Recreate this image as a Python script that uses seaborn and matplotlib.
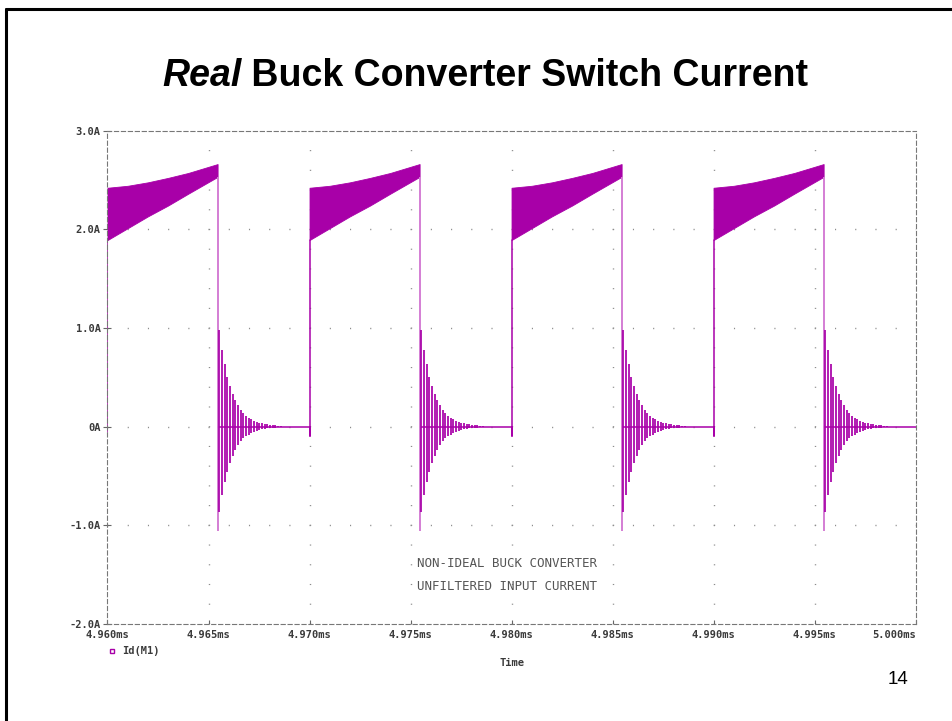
import numpy as np
import pandas as pd
import seaborn as sns
import matplotlib.pyplot as plt
from matplotlib.lines import Line2D

# switch current waveform, time in ms, current in A
period_starts = [4.960, 4.970, 4.980, 4.990]
t_stop = 5.000
on_time = 0.00545

# on-phase envelope (fast ringing fills the band), offsets in ms after turn-on
env_t = [0.0, 0.001, 0.002, 0.003, 0.004, 0.00545]
env_upper = [2.42, 2.44, 2.475, 2.52, 2.57, 2.66]
env_lower = [1.89, 2.01, 2.13, 2.24, 2.36, 2.53]
turn_on_dip = [-0.05, -0.10, -0.10, -0.10]

# turn-off edge and decaying ringing spikes
off_edge_top = 2.53
off_edge_low = -1.06
ring_first = 0.00008
ring_step = 0.000132
ring_top = [0.98, 0.78, 0.63, 0.50, 0.41, 0.33, 0.27, 0.22, 0.17, 0.14, 0.11, 0.09,
            0.075, 0.06, 0.05, 0.04, 0.033, 0.027, 0.022, 0.018, 0.015, 0.012, 0.01, 0.008]
ring_bot = [-0.86, -0.69, -0.56, -0.46, -0.37, -0.30, -0.24, -0.19, -0.15, -0.12, -0.10,
            -0.08, -0.065, -0.053, -0.043, -0.035, -0.028, -0.023, -0.019, -0.015, -0.012,
            -0.01, -0.008, -0.006]

x_ticks = [4.960, 4.965, 4.970, 4.975, 4.980, 4.985, 4.990, 4.995, 5.000]
y_ticks = [-2, -1, 0, 1, 2, 3]
y_ticklabels = ["-2.0A", "-1.0A", "0A", "1.0A", "2.0A", "3.0A"]

MAG = "#a800a8"
PINK = "#d47ed4"
MONO = "DejaVu Sans Mono"

sns.set_style("white")
plt.rcParams["font.family"] = ["Liberation Sans", "DejaVu Sans"]
plt.rcParams["lines.scale_dashes"] = False

fig = plt.figure(figsize=(9.53, 7.21), dpi=100)
ax = fig.add_axes([0.1128, 0.1345, 0.8479, 0.6845])

# baseline trace: zero current while off, turn-on edges
rows = []
seg = 0
prev_off = None
for k, t0 in enumerate(period_starts):
    if prev_off is not None:
        rows += [(seg, prev_off, 0.0), (seg, t0, 0.0)]
    rows += [(seg, t0, turn_on_dip[k]), (seg, t0, env_lower[0])]
    seg += 1
    prev_off = t0 + on_time
rows += [(seg, prev_off, 0.0), (seg, t_stop, 0.0)]
trace = pd.DataFrame(rows, columns=["seg", "t", "i"])
sns.lineplot(data=trace, x="t", y="i", units="seg", estimator=None, sort=False,
             color=MAG, lw=1.1, ax=ax, legend=False)

for t0 in period_starts:
    tt = t0 + np.array(env_t)
    ax.fill_between(tt, env_lower, env_upper, color=MAG, lw=0.6, edgecolor=MAG)
    t_off = t0 + on_time
    ax.vlines(t_off + 0.00003, off_edge_low, off_edge_top, color=PINK, lw=1.4)
    ts = t_off + ring_first + ring_step * np.arange(len(ring_top))
    ax.vlines(ts, ring_bot, ring_top, color=MAG, lw=1.25)

ax.set_xlim(4.960, 5.000)
ax.set_ylim(-2, 3)
ax.set_xlabel("")
ax.set_ylabel("")

# dotted grid
for xv in x_ticks[1:-1]:
    ax.axvline(xv, color="#8c8c8c", lw=1.0, linestyle=(0, (0.8, 13.4)), zorder=0)
for yv in y_ticks[1:-1]:
    ax.axhline(yv, color="#8c8c8c", lw=1.0, linestyle=(0, (0.8, 13.75)), zorder=0)

for s in ax.spines.values():
    s.set_visible(True)
    s.set_linestyle((0, (3, 2)))
    s.set_color("#777777")
    s.set_linewidth(0.8)

ax.set_xticks(x_ticks)
ax.set_xticklabels([f"{v:.3f}ms" for v in x_ticks])
ax.set_yticks(y_ticks)
ax.set_yticklabels(y_ticklabels)
ax.tick_params(axis="y", direction="inout", length=6, width=0.8, color="#666666",
               pad=2, labelsize=7.5, labelcolor="#3a3a3a", left=True)
ax.tick_params(axis="x", direction="in", length=3, width=0.8, color="#666666",
               pad=4, labelsize=7.5, labelcolor="#3a3a3a", bottom=True)
for lab in ax.get_xticklabels() + ax.get_yticklabels():
    lab.set_fontfamily(MONO)
    lab.set_fontweight("bold")
ax.get_xticklabels()[-1].set_horizontalalignment("right")

ax.text(4.9798, -1.384, "NON-IDEAL BUCK CONVERTER", ha="center", va="center",
        family=MONO, fontsize=9, color="#555555")
ax.text(4.9798, -1.62, "UNFILTERED INPUT CURRENT", ha="center", va="center",
        family=MONO, fontsize=9, color="#555555")

# legend entry and x label
fig.add_artist(Line2D([0.1172], [0.0975], transform=fig.transFigure, marker="s",
                      ms=3.5, mfc="none", mec=MAG, mew=1.0, ls="none"))
fig.text(0.1277, 0.0975, "Id(M1)", ha="left", va="center", family=MONO,
         fontsize=7.5, fontweight="bold", color="#3a3a3a")
fig.text(511.7 / 953, 1 - 663 / 721, "Time", ha="center", va="center", family=MONO,
         fontsize=7.5, fontweight="bold", color="#3a3a3a")

# slide title, "Real" in bold italic
t1 = fig.text(0, 0.881, "Real", fontsize=27, fontweight="bold", fontstyle="italic",
              va="baseline", ha="left", color="black")
t2 = fig.text(0, 0.881, " Buck Converter Switch Current", fontsize=27, fontweight="bold",
              va="baseline", ha="left", color="black")
r = fig.canvas.get_renderer()
w1 = t1.get_window_extent(r).width / fig.bbox.width
w2 = t2.get_window_extent(r).width / fig.bbox.width
x0 = 485 / 953 - (w1 + w2) / 2
t1.set_x(x0)
t2.set_x(x0 + w1)

fig.text(898 / 953, 1 - 679 / 721, "14", ha="center", va="center", fontsize=13.5,
         color="black")

# slide frame
fig.add_artist(Line2D([0.0068, 0.0068], [0, 0.9882], transform=fig.transFigure,
                      color="black", lw=2.2))
fig.add_artist(Line2D([0.0068, 1.0], [0.9882, 0.9882], transform=fig.transFigure,
                      color="black", lw=2.2))

fig.savefig("out.png", dpi=100)
